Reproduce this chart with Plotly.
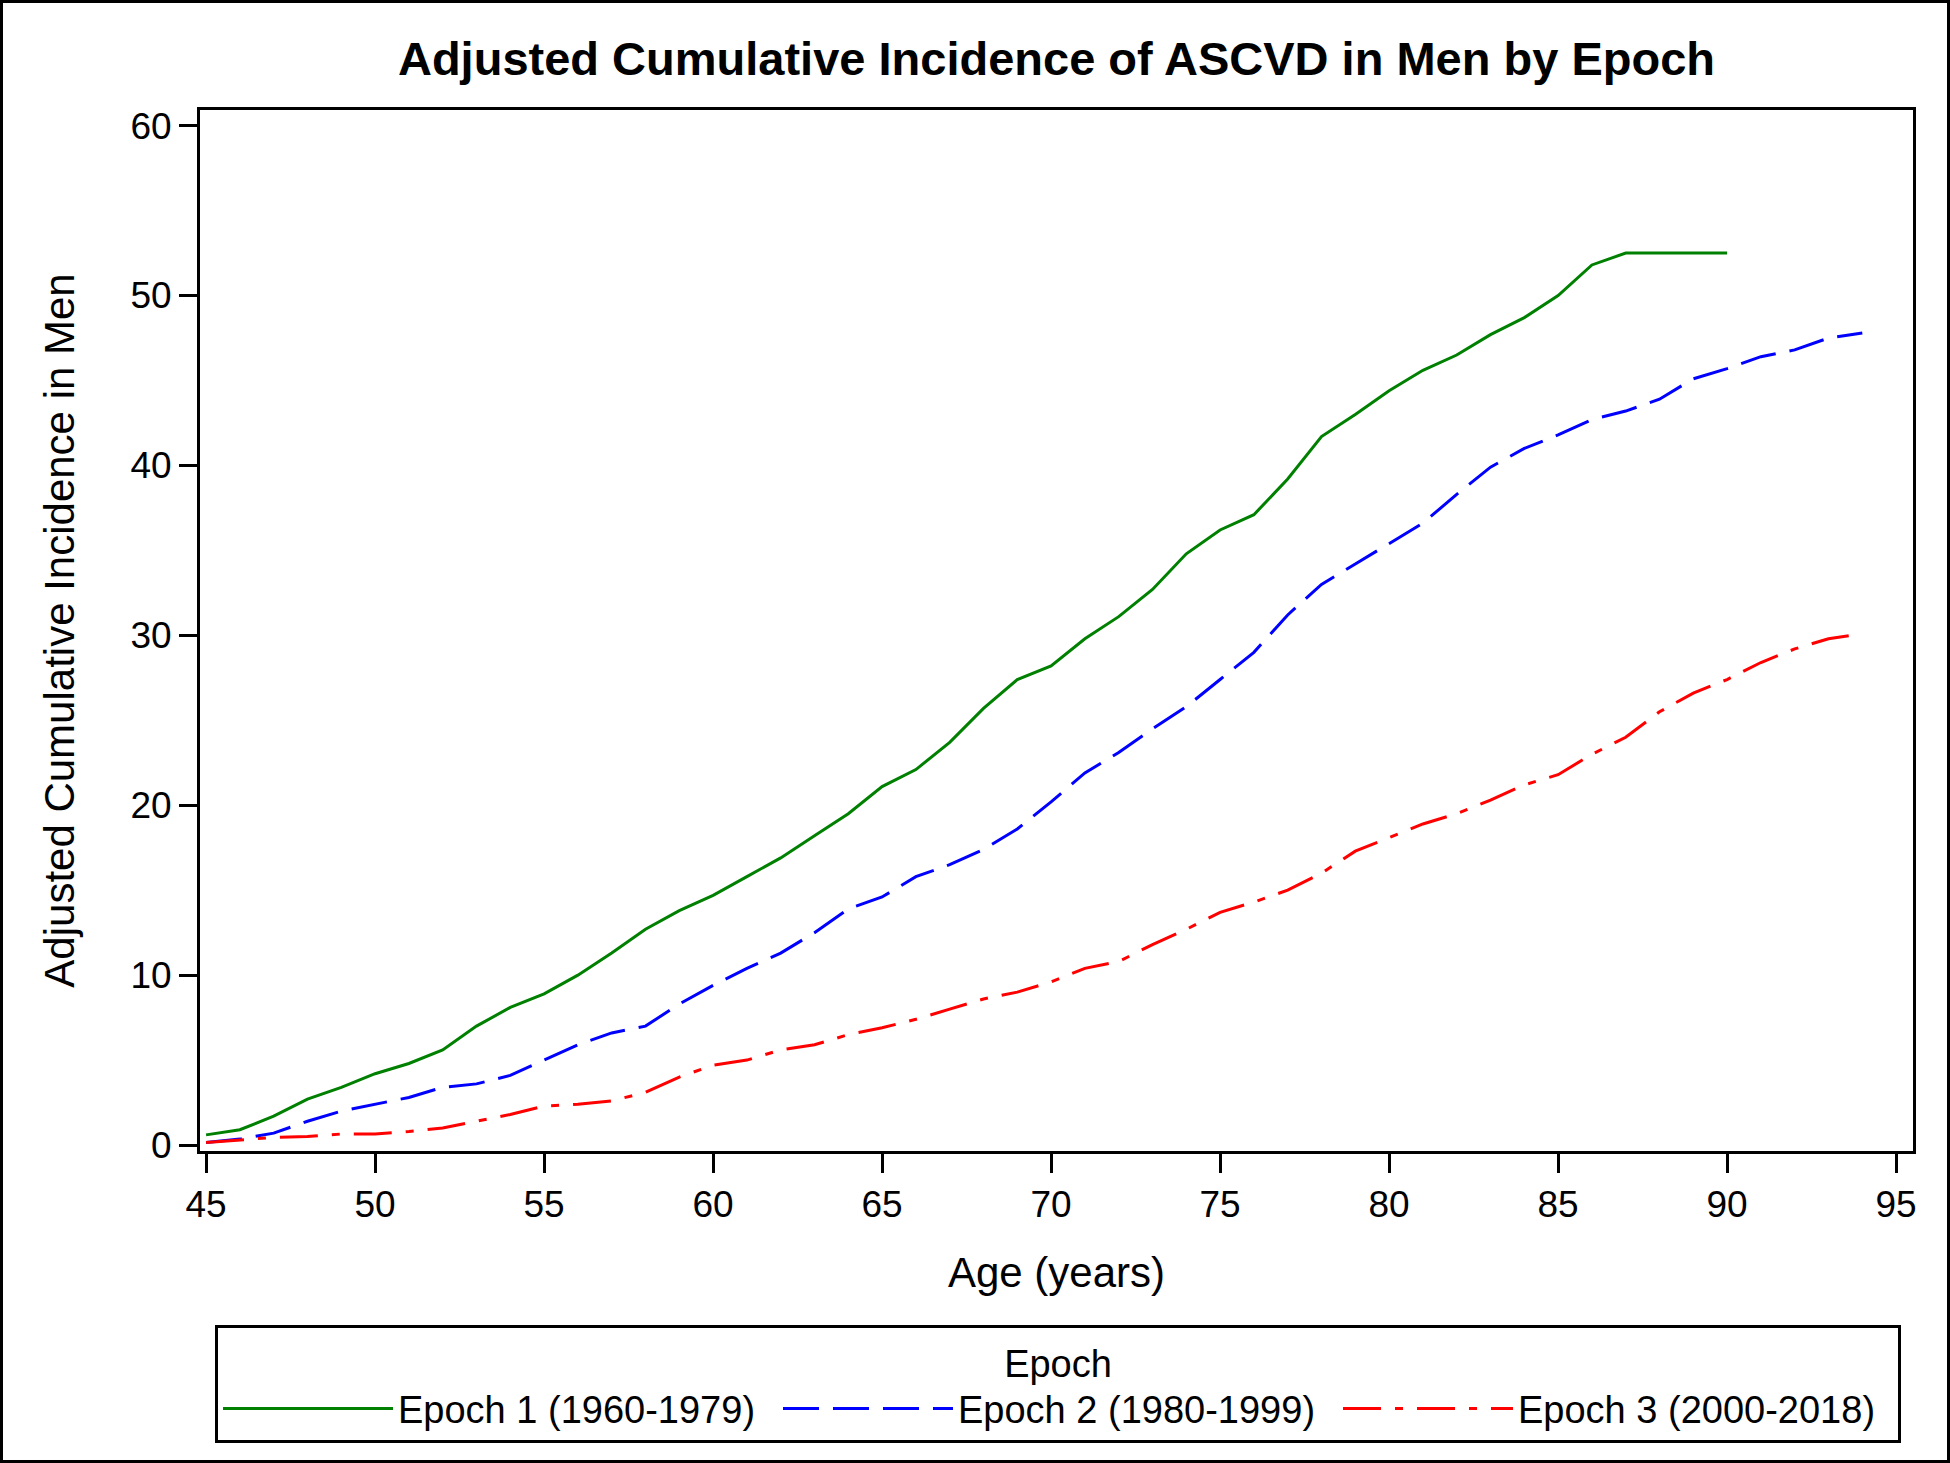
import plotly.graph_objects as go

# ---------------- data ----------------
age_epoch1 = list(range(45, 91))
inc_epoch1 = [0.6, 0.9, 1.7, 2.7, 3.4, 4.2, 4.8, 5.6, 7.0, 8.1,
              8.9, 10.0, 11.3, 12.7, 13.8, 14.7, 15.8, 16.9, 18.2, 19.5,
              21.1, 22.1, 23.7, 25.7, 27.4, 28.2, 29.8, 31.1, 32.7, 34.8,
              36.2, 37.1, 39.2, 41.7, 43.0, 44.4, 45.6, 46.5, 47.7, 48.7,
              50.0, 51.8, 52.5, 52.5, 52.5, 52.5]

age_epoch2 = list(range(45, 95))
inc_epoch2 = [0.15, 0.35, 0.7, 1.4, 2.0, 2.4, 2.8, 3.4, 3.6, 4.1,
              5.0, 5.9, 6.6, 7.0, 8.3, 9.4, 10.4, 11.3, 12.5, 13.9,
              14.6, 15.8, 16.5, 17.4, 18.6, 20.2, 21.9, 23.1, 24.5, 25.8,
              27.4, 29.0, 31.2, 33.0, 34.2, 35.4, 36.6, 38.3, 39.9, 41.0,
              41.8, 42.7, 43.2, 43.9, 45.1, 45.7, 46.4, 46.8, 47.5, 47.8]

age_epoch3 = list(range(45, 95))
inc_epoch3 = [0.15, 0.3, 0.45, 0.5, 0.65, 0.65, 0.8, 1.0, 1.4, 1.8,
              2.3, 2.4, 2.6, 3.1, 4.0, 4.7, 5.0, 5.6, 5.9, 6.5,
              6.9, 7.4, 8.0, 8.6, 9.0, 9.6, 10.4, 10.8, 11.8, 12.7,
              13.7, 14.3, 15.0, 16.0, 17.3, 18.1, 18.9, 19.5, 20.3, 21.2,
              21.8, 23.0, 24.0, 25.5, 26.6, 27.4, 28.4, 29.2, 29.8, 30.1]

series_names = ["Epoch 1 (1960-1979)", "Epoch 2 (1980-1999)", "Epoch 3 (2000-2018)"]

x_ticks = [45, 50, 55, 60, 65, 70, 75, 80, 85, 90, 95]
y_ticks = [0, 10, 20, 30, 40, 50, 60]

title_text = "Adjusted Cumulative Incidence of ASCVD in Men by Epoch"
x_title = "Age (years)"
y_title = "Adjusted Cumulative Incidence in Men"
legend_title = "Epoch"

# ---------------- styling ----------------
W, H = 1950, 1463
ML, MR, MT, MB = 200, 37, 110, 312
FONT = "Arial, Liberation Sans, Helvetica, sans-serif"

fig = go.Figure()
fig.add_trace(go.Scatter(x=age_epoch1, y=inc_epoch1, mode="lines", name=series_names[0],
                         line=dict(color="#008000", width=3, dash="solid")))
fig.add_trace(go.Scatter(x=age_epoch2, y=inc_epoch2, mode="lines", name=series_names[1],
                         line=dict(color="#0000FF", width=3, dash="36px,14px")))
fig.add_trace(go.Scatter(x=age_epoch3, y=inc_epoch3, mode="lines", name=series_names[2],
                         line=dict(color="#FF0000", width=3, dash="38px,14px,8px,14px")))

pw = W - ML - MR
ph = H - MT - MB

fig.update_layout(
    width=W, height=H,
    margin=dict(l=ML, r=MR, t=MT, b=MB, pad=0),
    paper_bgcolor="white", plot_bgcolor="white",
    font=dict(family=FONT, color="black", size=37),
    title=dict(text="<b>" + title_text + "</b>", x=0.5, xref="paper", xanchor="center",
               y=1 - 59 / H, yref="container", yanchor="middle",
               font=dict(family=FONT, size=47, color="black")),
    xaxis=dict(range=[44.82, 95.5], tickvals=x_ticks, ticks="outside", ticklen=19,
               tickwidth=3, tickcolor="black", showline=True, linecolor="black", linewidth=3,
               mirror=True, showgrid=False, zeroline=False,
               tickfont=dict(size=37),
               title=dict(text=x_title, font=dict(size=42), standoff=34)),
    yaxis=dict(range=[-0.35, 60.92], tickvals=y_ticks, ticks="outside", ticklen=18,
               tickwidth=3, tickcolor="black", showline=True, linecolor="black", linewidth=3,
               mirror=True, showgrid=False, zeroline=False,
               tickfont=dict(size=37),
               title=dict(text=y_title, font=dict(size=42), standoff=43)),
    legend=dict(orientation="h", x=(215 - ML) / pw, xanchor="left",
                y=(H - MB - 1325) / ph, yanchor="top",
                bordercolor="black", borderwidth=3, bgcolor="white",
                font=dict(size=38), itemwidth=170, entrywidth=375, entrywidthmode="pixels",
                title=dict(text=legend_title, side="top center", font=dict(size=38)),
                traceorder="normal"),
    showlegend=True,
)

# outer frame around the whole image
fig.add_shape(type="rect", xref="paper", yref="paper",
              x0=(1.5 - ML) / pw, x1=(W - 1.5 - ML) / pw,
              y0=(H - MB - (H - 1.5)) / ph, y1=(H - MB - 1.5) / ph,
              line=dict(color="black", width=3), fillcolor="rgba(0,0,0,0)", layer="below")

fig.write_html("out.html", config={"displayModeBar": False},
               post_script="document.body.style.margin='0px';document.body.style.overflow='hidden';")
